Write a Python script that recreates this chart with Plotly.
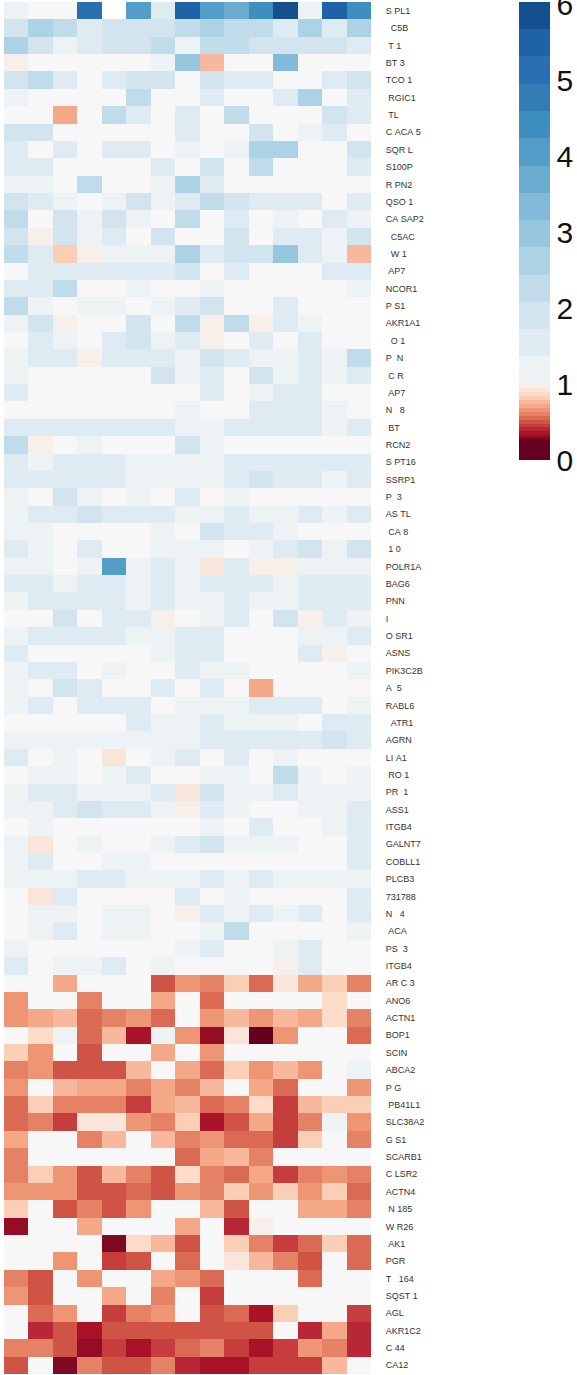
import plotly.graph_objects as go

gene_labels = ["S PL1","  C5B"," T 1","BT 3","TCO 1"," RGIC1"," TL","C ACA 5","SQR L","S100P",
"R PN2","QSO 1","CA SAP2","  C5AC","  W 1"," AP7","NCOR1","P S1","AKR1A1","  O 1",
"P  N"," C R"," AP7","N   8"," BT","RCN2","S PT16","SSRP1","P  3","AS TL",
" CA 8"," 1 0","POLR1A","BAG6","PNN","I","O SR1","ASNS","PIK3C2B","A  5",
"RABL6","  ATR1","AGRN","LI A1"," RO 1","PR  1","ASS1","ITGB4","GALNT7","COBLL1",
"PLCB3","731788","N   4"," ACA","PS  3","ITGB4","AR C 3","ANO6","ACTN1","BOP1",
"SCIN","ABCA2","P G"," PB41L1","SLC38A2","G S1","SCARB1","C LSR2","ACTN4"," N 185",
"W R26"," AK1","PGR","T   164","SQST 1","AGL","AKR1C2","C 44","CA12"]

rows_upper = [
[1.2,1,1,5.2,None,4.1,1.5,5.5,4.1,3.7,4.4,5.9,1.2,5.5,4.4],
[1.9,2.6,2.3,1.5,1.9,1.9,1.9,2.3,2.6,2.3,2.3,1.5,2.6,1.5,2.6],
[2.6,1.9,1.2,1.5,1.9,1.9,2.3,1.2,2.3,2.3,1.9,1.9,1.9,1.9,1.5],
[.97,1,1,1,1,1,1.2,3,.77,1,1,3.3,1,1,1],
[1.9,2.3,1.5,1,1.5,1.9,1.9,1,1.9,1.5,1.5,1,1,1.5,1.9],
[1.2,1,1,1,1,2.3,1,1,1.5,1,1,1.5,2.6,1,1.5],
[1,1,.71,1,2.3,1.5,1,1.5,1,2.3,1,1,1,1.9,1.5],
[1.9,1.9,1,1,1,1,1,1.5,1,1,1.9,1,1.2,1.5,1],
[1.5,1,1.5,1,1.5,1.5,1,1.2,1,1.2,2.6,2.6,1,1,1.9],
[1.5,1.5,1,1,1,1,1.5,1,1.9,1,2.3,1,1,1,1.5],
[1.2,1.2,1,2.3,1,1,1.2,2.6,1.5,1,1,1,1,1,1],
[1.9,1.5,1.2,1,1.2,1.9,1.2,1.5,2.3,1.9,1.5,1.5,1.5,1,1.5],
[2.3,1,1.9,1.2,1.9,1.2,1,2.3,1,1.5,1,1.2,1,1.5,1.2],
[1.9,.97,1.9,1.2,1.5,1,1.9,1,1,1.9,1,1.5,1.5,1.2,1.9],
[2.3,1.5,.82,.97,1.2,1.2,1.2,2.6,1.5,1.9,1.9,3,1.5,1.2,.77],
[1,1.5,1.5,1.5,1.5,1.5,1.5,1.9,1,1.5,1,1,1,1.5,1.5],
[1.5,1.5,2.3,1,1,1.2,1,1,1.2,1,1,1,1,1,1.2],
[2.3,1.2,1,1.2,1.2,1,1.2,1.5,1.9,1,1,1.5,1,1,1],
[1.2,1.9,.97,1,1,1.9,1,2.3,.97,2.3,.97,1.5,1.2,1,1],
[1,1.5,1.2,1,1.5,1.9,1.2,1.5,.97,1,1.5,1,1.5,1,1],
]

rows_middle = [
[1.2,1.5,1.5,.97,1.5,1.5,1.5,1.2,1.9,1.5,1.2,1.2,1.5,1.2,2.3],
[1.2,1,1,1,1,1,1.9,1.2,1.5,1,1.9,1.2,1.5,1.2,1.5],
[1.5,1,1,1,1,1,1,1,1.5,1,1.2,1.5,1.5,1,1],
[1,1,1,1,1,1,1,1.2,1,1,1.5,1.5,1.5,1.2,1],
[1.5,1.5,1.5,1.5,1.5,1.5,1.5,1.2,1.2,1.5,1.5,1.5,1.5,1.2,1.5],
[2.3,.97,1,1.2,1,1,1,1.9,1.2,1,1,1,1,1,1],
[1.5,1.2,1.5,1.5,1.5,1.2,1.2,1.2,1.2,1.5,1.5,1.5,1.5,1.5,1.5],
[1.5,1.5,1.5,1.5,1.5,1.2,1.2,1.2,1.2,1.5,1.9,1.5,1.5,1.2,1.5],
[1.2,1,1.9,1.2,1,1.2,1,1.5,1,1.2,1,1,1,1,1],
[1.2,1.5,1.5,1.9,1.5,1.5,1.5,1.2,1.2,1.5,1.2,1.2,1.5,1.2,1.5],
[1.2,1.2,1,1,1,1,1.2,1,1.9,1.5,1.5,1.2,1,1,1],
[1.5,1.2,1,1.5,1,1,1.2,1.2,1.2,1,1.2,1.5,1.9,1.2,1.9],
[1.2,1.2,1,1.2,4.1,1.2,1.5,1.2,.92,1.5,.97,.97,1.2,1.2,1.2],
[1.5,1.5,1.2,1.5,1.5,1.2,1.5,1.2,1.5,1.5,1.5,1.2,1.5,1.5,1.5],
[1.2,1.5,1.5,1.5,1.5,1.2,1.5,1.2,1.2,1.5,1.2,1.2,1.5,1.5,1.5],
[1,1,1.9,1,1.5,1.5,.97,1,1.2,1.5,1,1.9,.97,1.5,1.2],
[1.2,1.5,1.5,1.5,1.5,1.2,1.2,1.5,1.5,1,1,1,1.2,1.2,1.5],
[1.5,1,1,1,1,1,1.2,1.5,1.5,1,1,1,1.5,.97,1],
[1.2,1.5,1.5,1,1.2,1,1,1.5,1.2,1.2,1,1,1,1,1.2],
[1.2,1,1.9,1.5,1,1,1.5,1,1.5,1,.71,1,1,1,1],
[1.2,1.5,1,1.5,1.5,1.5,1,1.2,1.2,1.2,1.5,1.5,1.5,1,1.2],
[1,1,1,1,1,1.5,1.2,1.2,1.5,1.2,1.2,1.2,1,1.5,1.5],
[1.2,1.2,1.2,1.2,1.2,1.2,1.2,1.2,1.5,1.5,1.5,1.5,1.5,1.9,1.5],
[1.5,1,1.2,1,.92,1,1.2,1.5,1,1.5,1,1.2,1,1,1],
[1,1.2,1.2,1,1.2,1.5,1,1,1.2,1.2,1,2.3,1.2,1,1.2],
[1.2,1.5,1.5,1.2,1.2,1.2,1.5,.92,1.9,1.2,1.2,1.5,1.2,1.2,1.2],
[1.2,1.2,1.5,1.9,1.5,1.5,1.2,.97,1.5,1.2,1,1,1.2,1.2,1.5],
[1,1.2,1,1,1,1,1,1,1.2,1,1.5,1,1,1.2,1.5],
[1.2,.92,1,1.2,1,1,1.2,1.5,1.9,1.2,1.2,1.2,1,1,1.5],
[1.2,1.5,1,1,1.2,1.2,1,1,1,1,1,1,1,1,1.5],
[1.2,1.2,1.2,1.5,1.5,1.2,1.2,1.2,1.5,1.2,1.5,1.2,1.2,1.2,1.2],
[1,.92,1.5,1,1,1,1,1.5,1,1.2,1,1,1,1,1.5],
[1,1.2,1.2,1,1.2,1.2,1,.97,1.5,1.2,1.5,1.2,1.5,1,1.5],
[1,1.2,1.5,1,1.2,1.2,1,1,1.2,2.3,1,1,1,1,1.2],
[1.2,1,1,1,1,1,1,1.2,1.5,1,1,1.2,1.5,1,1],
[1.5,1,1.2,1.2,1.5,1,1.2,1,1,1,1,.97,1.5,1,1],
]

rows_lower = [
[1,1,.71,1,1,1,.51,.66,.61,.82,.56,.92,.71,.82,.61],
[.66,1,1,.61,1,1,.71,1,.56,1,1,1,1,.87,1],
[.66,.71,.77,.56,.61,.66,.56,1,.66,.77,.66,.77,.71,.87,.61],
[1,.87,1.2,.56,.77,.35,1.2,.66,.315,.92,.1,.66,1,1,.56],
[.82,.66,1,.51,1,1,.71,1,.66,1,1,1,1,1,1],
[.61,.66,.51,.51,.51,.77,1,.71,.56,.82,.66,.77,.66,1,1.2],
[.66,1,.77,.71,.71,.61,.71,.61,.77,1,.71,.56,1,1,.66],
[.56,.82,.61,.61,.61,.45,.71,.77,.56,.61,.87,.45,.77,.82,.82],
[.56,.61,.45,.92,.92,.66,.61,.82,.35,.51,.71,.45,.61,1.2,.66],
[.71,1,1,.61,.77,1,.77,.61,.66,.56,.56,.45,.82,1,.61],
[.61,1,1,1,1,1,1,.56,.71,.77,.61,1,1,1,1],
[.61,.82,.66,.51,.77,.61,.51,.87,.61,.56,.71,.45,.61,.66,.61],
[.66,.66,.66,.51,.51,.56,.51,.66,.61,.82,.66,.82,.66,.82,.56],
[.82,1,.51,.61,.51,.66,1,1,.77,.51,1,1,.71,.71,.61],
[.315,1,1,.71,1,1,1,.71,1,.4,.97,1,1,1,1],
[1,1,1,1,.285,.87,.77,.51,1,.82,.61,.45,.56,.82,.56],
[1,1,.66,1,.45,.51,1,.56,1,.92,.77,.61,.51,1,.56],
[.61,.51,1,.66,1,1,.71,.66,.56,1,1,1,.56,1,1],
[.66,.51,1,1,.71,1,.61,1,.45,1,1,1,1,1,1],
[1,.56,.66,1,.45,.61,.66,1,.51,.56,.35,.82,1,1,.45],
[1,.4,.51,.35,.51,.51,.51,.51,.51,.51,.51,1,.4,.71,.4],
[.61,.61,.51,.315,.45,.35,.45,.56,.61,.45,.35,.45,.66,.61,.4],
[.51,1,.285,.61,.51,.51,.61,.4,.35,.35,.45,.45,.45,.77,1],
]

bin_edges = [0,.272,.30,.33,.376,.428,.48,.532,.584,.636,.688,.74,.792,.844,.896,.948,.995,1.005,
             1.364,1.723,2.082,2.441,2.8,3.159,3.518,3.877,4.236,4.595,4.954,5.313,5.672,6.03]
bin_colors = ["#67001f","#7f0823","#940d25","#aa1228","#b82735","#c53e3d","#cf5446","#da6a54","#e58165",
              "#ee9673","#f5a887","#f7b89e","#fbcfb6","#fddbc9","#f9e5d9","#f6efea","#f7f7f7",
              "#edf2f5","#deebf2","#d2e5ef","#c0dceb","#acd2e5","#97c7df","#82bbd9","#6aacd0",
              "#539dc9","#3f8ec0","#337db7","#2870b1","#1f62a7","#144f8f"]
colorbar_ticks = [0, 1, 2, 3, 4, 5, 6]

z_values = rows_upper + rows_middle + rows_lower
zmax = bin_edges[-1]
colorscale = []
for i, c in enumerate(bin_colors):
    colorscale.append([bin_edges[i] / zmax, c])
    colorscale.append([bin_edges[i + 1] / zmax, c])

PLOT_L, PLOT_R, PLOT_T, PLOT_B = 4, 371, 2, 1374
W, H = 577, 1375
plot_w = PLOT_R - PLOT_L
plot_h = PLOT_B - PLOT_T

fig = go.Figure(go.Heatmap(
    z=z_values,
    zmin=0, zmax=zmax,
    colorscale=colorscale,
    hoverongaps=False,
    colorbar=dict(
        x=(519 - PLOT_L) / plot_w, xanchor="left", xpad=0,
        y=1, yanchor="top", ypad=0,
        lenmode="pixels", len=458,
        thicknessmode="pixels", thickness=31,
        outlinewidth=0, borderwidth=0,
        ticks="", tickmode="array", tickvals=colorbar_ticks,
        ticktext=[str(t) for t in colorbar_ticks],
        ticklabeloverflow="allow",
        tickfont=dict(family="Liberation Sans", size=30, color="#111111"),
    ),
))
fig.update_layout(
    width=W, height=H,
    margin=dict(l=PLOT_L, r=W - PLOT_R, t=PLOT_T, b=H - PLOT_B),
    paper_bgcolor="white", plot_bgcolor="white",
    xaxis=dict(visible=False, range=[-0.5, 14.5]),
    yaxis=dict(
        side="right", range=[78.5, -0.5], showgrid=False, zeroline=False, showline=False,
        tickmode="array", tickvals=list(range(len(gene_labels))),
        ticktext=[s.replace(" ", "\u00a0") for s in gene_labels],
        ticks="outside", ticklen=12, tickwidth=0, tickcolor="rgba(0,0,0,0)",
        tickfont=dict(family="Liberation Sans", size=9, color="#333333"),
        automargin=False,
    ),
)
fig.write_html("out.html", config={"displayModeBar": False},
               post_script="document.documentElement.style.overflow='hidden';document.body.style.margin='0';")
